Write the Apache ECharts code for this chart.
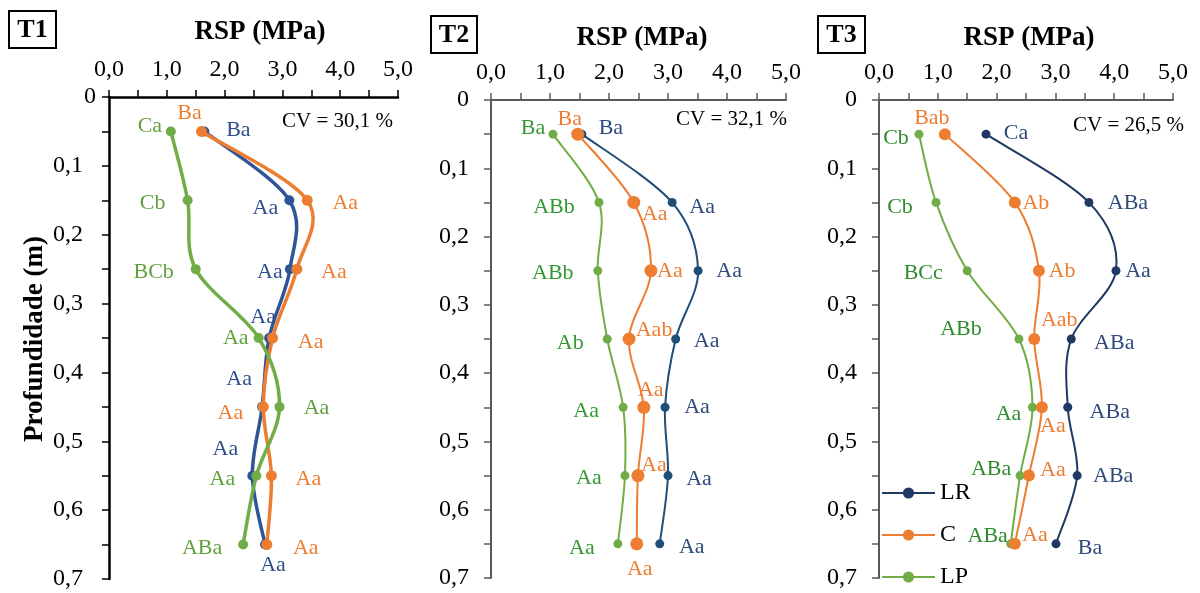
<!DOCTYPE html>
<html>
<head>
<meta charset="utf-8">
<script src="https://cdn.jsdelivr.net/npm/echarts@6/dist/echarts.min.js"></script>
<style>
  html, body { margin: 0; padding: 0; background: #fff; }
  #chart { width: 1200px; height: 593px; }
</style>
</head>
<body>
<div id="chart"></div>
<script>
// depths (m)
const depth = [0.05, 0.15, 0.25, 0.35, 0.45, 0.55, 0.65];

// RSP (MPa) per treatment
const t1LR = [1.65, 3.12, 3.13, 2.77, 2.65, 2.48, 2.70];
const t1C  = [1.60, 3.43, 3.25, 2.83, 2.67, 2.81, 2.73];
const t1LP = [1.07, 1.36, 1.50, 2.59, 2.95, 2.55, 2.32];
const t2LR = [1.54, 3.07, 3.51, 3.13, 2.95, 3.00, 2.86];
const t2C  = [1.47, 2.42, 2.71, 2.34, 2.59, 2.49, 2.47];
const t2LP = [1.05, 1.83, 1.81, 1.97, 2.24, 2.27, 2.15];
const t3LR = [1.82, 3.57, 4.03, 3.27, 3.21, 3.37, 3.01];
const t3C  = [1.12, 2.31, 2.72, 2.64, 2.77, 2.55, 2.31];
const t3LP = [0.68, 0.97, 1.50, 2.38, 2.61, 2.40, 2.24];

// letters (statistics)
const t1LRLet = ['Ba', 'Aa', 'Aa', 'Aa', 'Aa', 'Aa', 'Aa'];
const t1CLet  = ['Ba', 'Aa', 'Aa', 'Aa', 'Aa', 'Aa', 'Aa'];
const t1LPLet = ['Ca', 'Cb', 'BCb', 'Aa', 'Aa', 'Aa', 'ABa'];
const t2LRLet = ['Ba', 'Aa', 'Aa', 'Aa', 'Aa', 'Aa', 'Aa'];
const t2CLet  = ['Ba', 'Aa', 'Aa', 'Aab', 'Aa', 'Aa', 'Aa'];
const t2LPLet = ['Ba', 'ABb', 'ABb', 'Ab', 'Aa', 'Aa', 'Aa'];
const t3LRLet = ['Ca', 'ABa', 'Aa', 'ABa', 'ABa', 'ABa', 'Ba'];
const t3CLet  = ['Bab', 'Ab', 'Ab', 'Aab', 'Aa', 'Aa', 'Aa'];
const t3LPLet = ['Cb', 'Cb', 'BCc', 'ABb', 'Aa', 'ABa', 'ABa'];

const cvText = ['CV = 30,1 %', 'CV = 32,1 %', 'CV = 26,5 %'];

// label placement (px offset from marker)
const offT1LR = [[34,-1],[-24,8],[-20,3],[-6,-21],[-23,-28],[-27,-26],[8,21]];
const offT1C  = [[-12,-18],[38,3],[37,3],[38,4],[-33,6],[37,4],[39,4]];
const offT1LP = [[-21,-5],[-35,3],[-42,3],[-23,0],[37,1],[-34,4],[-41,4]];
const offT2LR = [[29,-6],[30,5],[31,1],[31,2],[32,0],[31,4],[32,3]];
const offT2C  = [[-8,-15],[21,12],[19,1],[25,-9],[7,-17],[16,-10],[3,25]];
const offT2LP = [[-20,-6],[-45,5],[-45,3],[-37,4],[-37,4],[-36,3],[-36,4]];
const offT3LR = [[30,-1],[39,1],[22,1],[43,4],[42,5],[36,1],[34,4]];
const offT3C  = [[-13,-16],[21,1],[23,1],[25,-19],[11,19],[24,-5],[20,-9]];
const offT3LP = [[-23,4],[-36,5],[-44,3],[-58,-10],[-24,7],[-29,-6],[-23,-8]];

const FONT = '"Liberation Serif", "Times New Roman", serif';
const ORANGE = '#ED7D31';
const GREEN = '#70AD47';

const grids = [
  { left: 109, top: 97, width: 289, height: 482 },
  { left: 491, top: 100, width: 295, height: 478 },
  { left: 879, top: 100, width: 294, height: 478 }
];

// markers + letters (line itself drawn by the curve series below)
function makeSeries(name, idx, vals, lets, offs, color, labColor, size, z) {
  return {
    name: name,
    type: 'line',
    xAxisIndex: idx,
    yAxisIndex: idx,
    symbol: 'circle',
    symbolSize: size,
    z: z,
    color: color,
    lineStyle: { color: color, width: 0, opacity: 0 },
    itemStyle: { color: color },
    emphasis: { disabled: true },
    data: vals.map((v, i) => ({
      value: [v, depth[i]],
      label: {
        show: true,
        position: 'inside',
        offset: offs[i],
        formatter: lets[i],
        color: labColor,
        fontFamily: FONT,
        fontSize: 22
      }
    }))
  };
}

// smoothed curve like the spreadsheet one (catmull-rom through the points)
function curveSeries(idx, vals, color, width, z) {
  return {
    type: 'custom',
    xAxisIndex: idx,
    yAxisIndex: idx,
    z: z,
    silent: true,
    encode: { x: 0, y: 1 },
    data: vals.map((v, i) => [v, depth[i]]),
    renderItem: function (params, api) {
      if (params.dataIndex !== 0) return null;
      const p = vals.map((v, i) => api.coord([v, depth[i]]));
      const n = p.length;
      const kids = [];
      for (let i = 0; i < n - 1; i++) {
        const a = p[Math.max(i - 1, 0)], b = p[i], c = p[i + 1], d = p[Math.min(i + 2, n - 1)];
        kids.push({
          type: 'bezierCurve',
          shape: {
            x1: b[0], y1: b[1], x2: c[0], y2: c[1],
            cpx1: b[0] + (c[0] - a[0]) / 6, cpy1: b[1] + (c[1] - a[1]) / 6,
            cpx2: c[0] - (d[0] - b[0]) / 6, cpy2: c[1] - (d[1] - b[1]) / 6
          },
          style: { stroke: color, lineWidth: width, fill: null, lineCap: 'round' }
        });
      }
      return { type: 'group', children: kids };
    }
  };
}

function xLab(v) {
  return (v % 1 === 0) ? v.toFixed(1).replace('.', ',') : '';
}
function yLab(v) {
  const k = Math.round(v * 100);
  if (k % 10 !== 0) return '';
  if (k === 0) return '0';
  return (k / 100).toFixed(1).replace('.', ',');
}

const axisCol = ['#000', '#595959', '#595959'];
const axisW = [2.5, 2, 2];

const xAxes = grids.map((g, i) => ({
  gridIndex: i,
  type: 'value',
  position: 'top',
  min: 0, max: 5, interval: 0.5,
  axisLine: { show: true, lineStyle: { color: axisCol[i], width: axisW[i] } },
  axisTick: { show: true, length: 7, lineStyle: { color: axisCol[i], width: 1.5 } },
  axisLabel: { formatter: xLab, margin: 15, color: '#000', fontFamily: FONT, fontSize: 24 },
  splitLine: { show: false }
}));

const yAxes = grids.map((g, i) => ({
  gridIndex: i,
  type: 'value',
  inverse: true,
  min: 0, max: 0.7, interval: 0.05,
  axisLine: { show: true, lineStyle: { color: axisCol[i], width: axisW[i] } },
  axisTick: { show: true, length: 7, lineStyle: { color: axisCol[i], width: 1.5 } },
  axisLabel: i === 0 ? {
    formatter: v => {
      const s = yLab(v);
      if (s === '' || s === '0') return s;
      return '{n|' + s + '}';
    },
    rich: { n: { padding: [0, 13, 0, 0], fontFamily: FONT, fontSize: 24, color: '#000' } },
    margin: 13, color: '#000', fontFamily: FONT, fontSize: 24
  } : { formatter: yLab, margin: 22, color: '#000', fontFamily: FONT, fontSize: 24 },
  splitLine: { show: false }
}));

const T1B = '#2F5597', T2B = '#1F4E79', T3B = '#203864';

const series = [
  curveSeries(0, t1LR, T1B, 3.5, 2),
  makeSeries('LR-T1', 0, t1LR, t1LRLet, offT1LR, T1B, '#2F4E8C', 10, 2),
  curveSeries(0, t1C, ORANGE, 3.5, 3),
  makeSeries('C-T1', 0, t1C, t1CLet, offT1C, ORANGE, ORANGE, 11, 3),
  curveSeries(0, t1LP, GREEN, 3.5, 4),
  makeSeries('LP-T1', 0, t1LP, t1LPLet, offT1LP, GREEN, '#62A03C', 10, 4),

  curveSeries(1, t2LR, T2B, 2, 2),
  makeSeries('LR-T2', 1, t2LR, t2LRLet, offT2LR, T2B, '#2E4A7D', 9, 2),
  curveSeries(1, t2C, ORANGE, 2, 3),
  makeSeries('C-T2', 1, t2C, t2CLet, offT2C, ORANGE, ORANGE, 13, 3),
  curveSeries(1, t2LP, GREEN, 2, 4),
  makeSeries('LP-T2', 1, t2LP, t2LPLet, offT2LP, GREEN, '#339933', 9, 4),

  curveSeries(2, t3LR, T3B, 2, 2),
  makeSeries('LR', 2, t3LR, t3LRLet, offT3LR, T3B, '#2F4A7A', 9, 2),
  curveSeries(2, t3LP, GREEN, 2, 3),
  makeSeries('LP', 2, t3LP, t3LPLet, offT3LP, GREEN, '#2E8B2E', 9, 3),
  curveSeries(2, t3C, ORANGE, 2, 4),
  makeSeries('C', 2, t3C, t3CLet, offT3C, ORANGE, ORANGE, 12, 4)
];

const boxes = [
  { x: 9, y: 11, w: 47, h: 37, t: 'T1' },
  { x: 431, y: 16, w: 46, h: 37, t: 'T2' },
  { x: 818, y: 16, w: 47, h: 37, t: 'T3' }
];
const titlePos = [[260, 32], [642, 38], [1029, 38]];
const cvPos = [[393, 121], [787, 119], [1184, 125]];

const graphic = [];
boxes.forEach(b => {
  graphic.push({ type: 'rect', shape: { x: b.x, y: b.y, width: b.w, height: b.h },
    style: { fill: '#fff', stroke: '#000', lineWidth: 2 } });
  graphic.push({ type: 'text', x: b.x + b.w / 2, y: b.y + b.h / 2 + 1,
    style: { text: b.t, font: 'bold 26px ' + FONT, fill: '#000', textAlign: 'center', textVerticalAlign: 'middle' } });
});
titlePos.forEach(p => {
  graphic.push({ type: 'text', x: p[0], y: p[1],
    style: { text: 'RSP (MPa)', font: 'bold 27px ' + FONT, fill: '#000', textAlign: 'center', textVerticalAlign: 'middle' } });
});
cvPos.forEach((p, i) => {
  graphic.push({ type: 'text', x: p[0], y: p[1],
    style: { text: cvText[i], font: '21px ' + FONT, fill: '#000', textAlign: 'right', textVerticalAlign: 'middle' } });
});
graphic.push({ type: 'text', x: 35, y: 339, rotation: Math.PI / 2,
  style: { text: 'Profundidade (m)', font: 'bold 27px ' + FONT, fill: '#000', textAlign: 'center', textVerticalAlign: 'middle' } });

const chart = echarts.init(document.getElementById('chart'), null, { renderer: 'canvas' });
chart.setOption({
  animation: false,
  backgroundColor: '#fff',
  grid: grids,
  xAxis: xAxes,
  yAxis: yAxes,
  legend: {
    data: [
      { name: 'LR', lineStyle: { color: T3B, width: 2, opacity: 1 } },
      { name: 'C', lineStyle: { color: ORANGE, width: 2, opacity: 1 } },
      { name: 'LP', lineStyle: { color: GREEN, width: 2, opacity: 1 } }
    ],
    orient: 'vertical',
    left: 881,
    top: 481,
    height: 140,
    padding: 0,
    itemWidth: 53,
    itemHeight: 14,
    itemGap: 18,
    textStyle: { fontFamily: FONT, fontSize: 24, color: '#000' }
  },
  graphic: graphic,
  series: series
});
</script>
</body>
</html>
